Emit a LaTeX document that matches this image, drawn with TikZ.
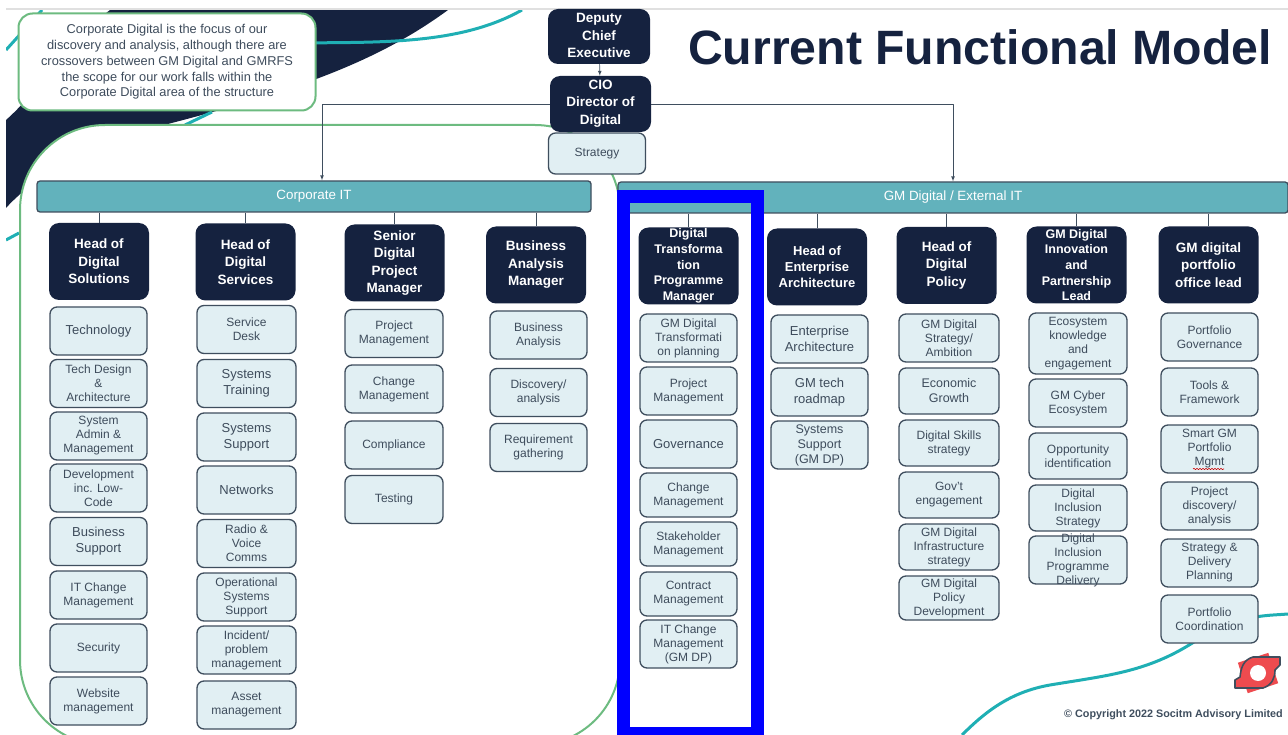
\documentclass[tikz,border=0pt]{standalone}
\usepackage{fontspec}
\setmainfont{Liberation Sans}
\usetikzlibrary{decorations.pathmorphing}

\definecolor{navy}{HTML}{15223F}
\definecolor{barteal}{HTML}{62B2BC}
\definecolor{lightbox}{HTML}{E1EFF3}
\definecolor{boxline}{HTML}{3F4E5E}
\definecolor{subtext}{HTML}{3E4C5C}
\definecolor{swoosh}{HTML}{1FAFB4}
\definecolor{blobgreen}{HTML}{6DBB80}
\definecolor{logored}{HTML}{EE4B4F}

\newcommand{\overtext}[2][90pt]{\smash{\raisebox{-3pt}{\parbox[c]{#1}{\centering #2}}}}

\tikzset{
  headbox/.style={fill=navy,rounded corners=10pt,text=white,align=center,inner sep=0pt,
    minimum width=100pt,minimum height=77pt,font=\fontsize{13.5}{17.5}\selectfont\bfseries},
  subbox/.style={draw=boxline,line width=1.3pt,fill=lightbox,rounded corners=7pt,text=subtext,align=center,
    inner sep=0pt,minimum width=97pt,minimum height=48pt,font=\fontsize{12}{14}\selectfont},
  barbox/.style={draw=boxline,line width=1.3pt,fill=barteal,rounded corners=3pt,text=white,inner sep=0pt,
    minimum height=31pt,font=\fontsize{13.4}{15}\selectfont},
  wire/.style={draw=boxline,line width=0.7pt},
  wirearrow/.style={wire,-latex},
  swooshline/.style={swoosh,line width=3pt},
}

\begin{document}
\begin{tikzpicture}[x=1pt,y=-1pt,line join=round]
  \useasboundingbox (0,0) rectangle (1288,735);

  % background artwork
  \begin{scope}
    \clip (6,10) rectangle (1288,735);
    \fill[navy] (110,10) -- (448,10) .. controls (380,60) and (300,90) .. (164,125)
      .. controls (100,145) and (40,170) .. (6,208) -- (6,120) .. controls (40,90) and (70,40) .. (110,10) -- cycle;
    \draw[swooshline] (6,50) -- (42,10);
    \draw[swooshline] (300,43) .. controls (380,42) and (460,45) .. (522,10);
    \draw[swooshline] (185,125) -- (212,112);
    \draw[swooshline] (6,240) -- (19,233);
    \draw[swooshline] (962,735) .. controls (985,712) and (1010,692) .. (1050,685)
      .. controls (1110,675) and (1150,672) .. (1200,638);
    \draw[swooshline] (1250,618) .. controls (1265,615) and (1275,615) .. (1288,614);
  \end{scope}
  \fill[black!12] (6,8) rectangle (1288,10);

  % corporate digital outline
  \draw[blobgreen,line width=2pt,fill=white,rounded corners=85pt] (20,125) rectangle (620,745);
  \node[draw=blobgreen,line width=2pt,fill=white,rounded corners=14pt,text=subtext,align=center,inner sep=0pt,
    minimum width=297pt,minimum height=97pt,font=\fontsize{12.8}{15.7}\selectfont] (note) at (167,62)
    {\overtext[290pt]{Corporate Digital is the focus of our\\discovery and analysis, although there are\\crossovers between GM Digital and GMRFS\\the scope for our work falls within the\\Corporate Digital area of the structure}};

  % title
  \node[text=navy,inner sep=0pt,font=\fontsize{48.2}{48}\selectfont\bfseries] (title) at (980,47) {Current Functional Model};

  % top of the structure
  \node[headbox,minimum width=102pt,minimum height=55pt] (deputy) at (599,36.5) {\overtext{Deputy\\Chief\\Executive}};
  \node[headbox,minimum width=101pt,minimum height=56pt] (cio) at (600.5,104) {\overtext{CIO\\Director of\\Digital}};
  \node[subbox,minimum width=97pt,minimum height=41pt] (strategy) at (597,153.5) {Strategy};

  \node[barbox,minimum width=554pt] (corpit) at (314,196.5) {Corporate IT};
  \node[barbox,minimum width=670pt] (gmit) at (953,197.5) {GM Digital / External IT};

  \draw[wirearrow] (deputy) -- (cio);
  \draw[wirearrow] (cio.west) -| ([xshift=8pt]corpit.north);
  \draw[wirearrow] (cio.east) -| (gmit.north);

  % corporate IT heads
  \node[headbox] (h1) at (99,261.5) {Head of\\Digital\\Solutions};
  \node[headbox] (h2) at (245.5,262) {Head of\\Digital\\Services};
  \node[headbox] (h3) at (394.5,263) {Senior\\Digital\\Project\\Manager};
  \node[headbox] (h4) at (536,265) {Business\\Analysis\\Manager};

  % GM digital heads
  \node[headbox,font=\fontsize{12.5}{15.7}\selectfont\bfseries] (h5) at (688.5,266) {\overtext{Digital\\Transforma\\tion\\Programme\\Manager}};
  \node[headbox,font=\fontsize{13}{16}\selectfont\bfseries] (h6) at (817,267) {Head of\\Enterprise\\Architecture};
  \node[headbox] (h7) at (946.5,265.5) {Head of\\Digital\\Policy};
  \node[headbox,font=\fontsize{12.5}{15.7}\selectfont\bfseries] (h8) at (1076.5,265) {\overtext{GM Digital\\Innovation\\and\\Partnership\\Lead}};
  \node[headbox] (h9) at (1208.5,265) {GM digital\\portfolio\\office lead};

  \draw[wire] (h1.north |- corpit.south) -- (h1);
  \draw[wire] (h2.north |- corpit.south) -- (h2);
  \draw[wire] (h3.north |- corpit.south) -- (h3);
  \draw[wire] (h4.north |- corpit.south) -- (h4);
  \draw[wire] (h5.north |- gmit.south) -- (h5);
  \draw[wire] (h6.north |- gmit.south) -- (h6);
  \draw[wire] (h7.north |- gmit.south) -- (h7);
  \draw[wire] (h8.north |- gmit.south) -- (h8);
  \draw[wire] (h9.north |- gmit.south) -- (h9);

  % column 1
  \node[subbox,font=\fontsize{13}{15}\selectfont] (s11) at (98.5,331) {Technology};
  \node[subbox] (s12) at (98.5,383.5) {\overtext{Tech Design\\\&\\Architecture}};
  \node[subbox] (s13) at (98.5,436) {\overtext{System\\Admin \&\\Management}};
  \node[subbox] (s14) at (98.5,488) {\overtext{Development\\inc. Low-\\Code}};
  \node[subbox,font=\fontsize{13}{16}\selectfont] (s15) at (98.5,541.5) {Business\\Support};
  \node[subbox] (s16) at (98.5,595) {IT Change\\Management};
  \node[subbox] (s17) at (98.5,648) {Security};
  \node[subbox] (s18) at (98.5,701) {Website\\management};

  % column 2
  \node[subbox,minimum width=99pt] (s21) at (246.5,329.5) {Service\\Desk};
  \node[subbox,minimum width=99pt,font=\fontsize{13}{16}\selectfont] (s22) at (246.5,383.5) {Systems\\Training};
  \node[subbox,minimum width=99pt,font=\fontsize{13}{16}\selectfont] (s23) at (246.5,437) {Systems\\Support};
  \node[subbox,minimum width=99pt,font=\fontsize{13}{16}\selectfont] (s24) at (246.5,490) {Networks};
  \node[subbox,minimum width=99pt] (s25) at (246.5,543.5) {\overtext{Radio \&\\Voice\\Comms}};
  \node[subbox,minimum width=99pt] (s26) at (246.5,597) {\overtext{Operational\\Systems\\Support}};
  \node[subbox,minimum width=99pt] (s27) at (246.5,650) {\overtext{Incident/\\problem\\management}};
  \node[subbox,minimum width=99pt] (s28) at (246.5,705) {Asset\\management};

  % column 3
  \node[subbox,minimum width=98pt] (s31) at (394,333.5) {Project\\Management};
  \node[subbox,minimum width=98pt] (s32) at (394,389) {Change\\Management};
  \node[subbox,minimum width=98pt] (s33) at (394,445) {Compliance};
  \node[subbox,minimum width=98pt] (s34) at (394,499.5) {Testing};

  % column 4
  \node[subbox] (s41) at (538.5,335) {Business\\Analysis};
  \node[subbox] (s42) at (538.5,392.5) {Discovery/\\analysis};
  \node[subbox] (s43) at (538.5,447.5) {Requirement\\gathering};

  % column 5
  \node[subbox] (s51) at (688.5,338) {\overtext{GM Digital\\Transformati\\on planning}};
  \node[subbox] (s52) at (688.5,391) {Project\\Management};
  \node[subbox,font=\fontsize{13}{15}\selectfont] (s53) at (688.5,444) {Governance};
  \node[subbox,minimum height=44pt] (s54) at (688.5,495) {Change\\Management};
  \node[subbox,minimum height=44pt] (s55) at (688.5,544) {Stakeholder\\Management};
  \node[subbox,minimum height=44pt] (s56) at (688.5,594) {Contract\\Management};
  \node[subbox] (s57) at (688.5,644) {\overtext{IT Change\\Management\\(GM DP)}};

  % column 6
  \node[subbox,font=\fontsize{13}{16}\selectfont] (s61) at (819.5,339) {Enterprise\\Architecture};
  \node[subbox,font=\fontsize{13}{16}\selectfont] (s62) at (819.5,392) {GM tech\\roadmap};
  \node[subbox,font=\fontsize{12.5}{15}\selectfont] (s63) at (819.5,445) {\overtext{Systems\\Support\\(GM DP)}};

  % column 7
  \node[subbox,minimum width=100pt] (s71) at (949,338) {\overtext{GM Digital\\Strategy/\\Ambition}};
  \node[subbox,minimum width=100pt,minimum height=46pt,font=\fontsize{12.5}{15}\selectfont] (s72) at (949,391) {Economic\\Growth};
  \node[subbox,minimum width=100pt,minimum height=46pt] (s73) at (949,443) {Digital Skills\\strategy};
  \node[subbox,minimum width=100pt,minimum height=46pt] (s74) at (949,495) {Gov't\\engagement};
  \node[subbox,minimum width=100pt,minimum height=46pt] (s75) at (949,547) {\overtext{GM Digital\\Infrastructure\\strategy}};
  \node[subbox,minimum width=100pt,minimum height=44pt] (s76) at (949,598) {\overtext{GM Digital\\Policy\\Development}};

  % column 8
  \node[subbox,minimum width=98pt,minimum height=61pt] (s81) at (1078,343.5) {\overtext{Ecosystem\\knowledge\\and\\engagement}};
  \node[subbox,minimum width=98pt] (s82) at (1078,403) {GM Cyber\\Ecosystem};
  \node[subbox,minimum width=98pt,minimum height=46pt] (s83) at (1078,456) {Opportunity\\identification};
  \node[subbox,minimum width=98pt,minimum height=46pt] (s84) at (1078,508) {\overtext{Digital\\Inclusion\\Strategy}};
  \node[subbox,minimum width=98pt] (s85) at (1078,560) {\overtext{Digital\\Inclusion\\Programme\\Delivery}};

  % column 9
  \node[subbox] (s91) at (1209.5,337) {Portfolio\\Governance};
  \node[subbox] (s92) at (1209.5,392) {Tools \&\\Framework};
  \node[subbox] (s93) at (1209.5,449) {\overtext{Smart GM\\Portfolio\\Mgmt}};
  \node[subbox] (s94) at (1209.5,506) {\overtext{Project\\discovery/\\analysis}};
  \node[subbox] (s95) at (1209.5,563) {\overtext{Strategy \&\\Delivery\\Planning}};
  \node[subbox] (s96) at (1209.5,619) {Portfolio\\Coordination};
  \draw[red!80!black,line width=0.6pt,decorate,decoration={snake,amplitude=0.7pt,segment length=3pt}] (1193,469) -- (1224,469);

  % highlight
  \draw[blue,line width=13pt,line join=miter] (623.5,196.5) rectangle (757.5,733.5);

  % logo
  \coordinate (logo) at (1258,673);
  \fill[logored,rotate around={18:(logo)}] (1242,657) rectangle (1274,689);
  \draw[boxline,fill=logored,line width=1.6pt] (1280,657) -- (1253,657) .. controls (1243,660) and (1241,668) .. (1240,677)
    -- (1235,680) -- (1235,688) -- (1263,688) .. controls (1272,685) and (1275,678) .. (1275,670) -- (1280,665) -- cycle;
  \fill[white] (logo) circle (8pt);

  % footer
  \node[text=boxline,anchor=east,inner sep=0pt,font=\fontsize{10.8}{12}\selectfont\bfseries] (copyright) at (1283,715) {© Copyright 2022  Socitm Advisory Limited};
\end{tikzpicture}
\end{document}
